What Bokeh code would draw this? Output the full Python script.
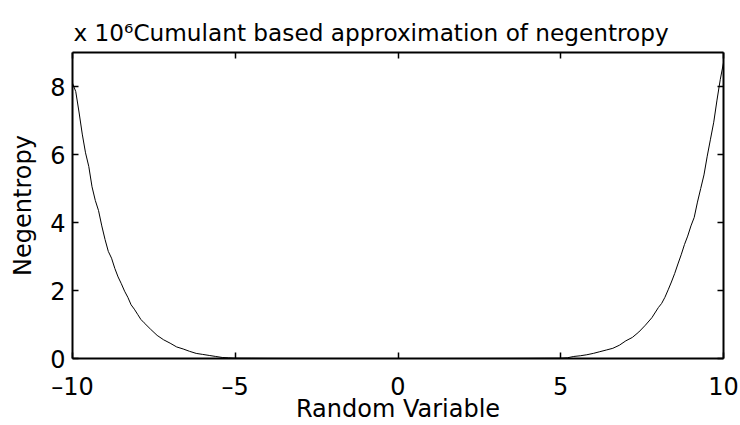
from bokeh.plotting import figure
from bokeh.models import LinearAxis, Range1d, FixedTicker, CustomJSTickFormatter
from bokeh.embed import file_html
from bokeh.resources import INLINE

# Random variable values (x) and cumulant-based negentropy (in units of 1e6)
random_variable = [
    -10.0, -9.9, -9.8, -9.7, -9.6, -9.5, -9.4, -9.3, -9.2, -9.1, -9.0,
    -8.9, -8.8, -8.7, -8.6, -8.5, -8.4, -8.3, -8.2, -8.1, -8.0,
    -7.9, -7.8, -7.6, -7.4, -7.2, -7.0, -6.8, -6.6, -6.4, -6.2, -6.0,
    -5.8, -5.6, -5.4, -5.2, -5.0, -4.5, -4.0, -3.5, -3.0, -2.5, -2.0,
    -1.5, -1.0, -0.5, 0.0, 0.5, 1.0, 1.5, 2.0, 2.5, 3.0, 3.5, 4.0, 4.5,
    5.0, 5.2, 5.4, 5.6, 5.8, 6.0, 6.2, 6.4, 6.6, 6.8, 7.0, 7.2, 7.4,
    7.6, 7.8, 8.0, 8.1, 8.2, 8.3, 8.4, 8.5, 8.6, 8.7, 8.8, 8.9, 9.0,
    9.1, 9.2, 9.3, 9.4, 9.5, 9.6, 9.7, 9.8, 9.9, 10.0,
]
negentropy_1e6 = [
    8.10, 7.85, 7.25, 6.60, 6.05, 5.65, 5.05, 4.65, 4.35, 3.90, 3.50,
    3.15, 2.95, 2.65, 2.40, 2.20, 1.98, 1.80, 1.58, 1.45, 1.30,
    1.15, 1.05, 0.86, 0.68, 0.55, 0.45, 0.34, 0.28, 0.21, 0.15, 0.12,
    0.09, 0.06, 0.03, 0.02, 0.01, 0.008, 0.005, 0.003, 0.002, 0.001, 0.0005,
    0.0002, 0.0001, 0.0, 0.0, 0.0, 0.0001, 0.0002, 0.0005, 0.001, 0.002, 0.003, 0.005, 0.008,
    0.01, 0.02, 0.06, 0.08, 0.11, 0.15, 0.20, 0.25, 0.30, 0.39, 0.52, 0.62, 0.78,
    0.98, 1.20, 1.50, 1.62, 1.80, 2.02, 2.25, 2.50, 2.78, 3.05, 3.35, 3.60, 3.90,
    4.15, 4.60, 5.00, 5.40, 5.95, 6.45, 6.95, 7.60, 8.20, 8.70,
]
x_ticks = [-10, -5, 0, 5, 10]
y_ticks = [0, 2, 4, 6, 8]
x_tick_labels = {-10: "\u201310", -5: "\u20135", 0: "0", 5: "5", 10: "10"}

multiplier_text = "x 10\u2076"
title_text = "Cumulant based approximation of negentropy"
x_label = "Random Variable"
y_label = "Negentropy"

FONT = "DejaVu Sans"

p = figure(
    width=740, height=425,
    x_range=Range1d(-10, 10), y_range=Range1d(0, 9),
    output_backend="svg", toolbar_location=None,
    min_border_left=72, min_border_right=17,
    min_border_top=52, min_border_bottom=67,
    x_axis_label=x_label, y_axis_label=y_label,
)
p.background_fill_color = "white"
p.border_fill_color = "white"
p.outline_line_color = None
p.xgrid.visible = False
p.ygrid.visible = False

p.title.text = multiplier_text + title_text
p.title.align = "left"
p.title.offset = 1
p.title.text_font = FONT
p.title.text_font_size = "23.2px"
p.title.text_font_style = "normal"
p.title.text_color = "black"
p.title.standoff = 14

p.line(random_variable, negentropy_1e6, line_color="black", line_width=1)

def style_axis(ax, ticks):
    ax.ticker = FixedTicker(ticks=ticks)
    ax.axis_line_color = "black"
    ax.axis_line_width = 2
    ax.major_tick_line_color = "black"
    ax.major_tick_line_width = 1.5
    ax.major_tick_in = 6
    ax.major_tick_out = 0
    ax.minor_tick_line_color = None
    ax.major_label_text_font = FONT
    ax.major_label_text_font_size = "24px"
    ax.major_label_text_color = "black"
    ax.axis_label_text_font = FONT
    ax.axis_label_text_font_size = "24px"
    ax.axis_label_text_font_style = "normal"
    ax.axis_label_text_color = "black"

xa = p.xaxis[0]
style_axis(xa, x_ticks)
xa.major_label_overrides = x_tick_labels
xa.major_label_standoff = 14
xa.axis_label_standoff = -9

ya = p.yaxis[0]
style_axis(ya, y_ticks)
ya.major_label_standoff = 7
ya.axis_label_standoff = 10

blank = CustomJSTickFormatter(code="return ''")
top = LinearAxis(formatter=blank)
style_axis(top, x_ticks)
top.major_label_standoff = 0
top.major_label_text_font_size = "0px"
p.add_layout(top, "above")

right = LinearAxis(formatter=blank)
style_axis(right, y_ticks)
right.major_label_standoff = 0
right.major_label_text_font_size = "0px"
p.add_layout(right, "right")

open("out.html", "w").write(file_html(p, INLINE))
